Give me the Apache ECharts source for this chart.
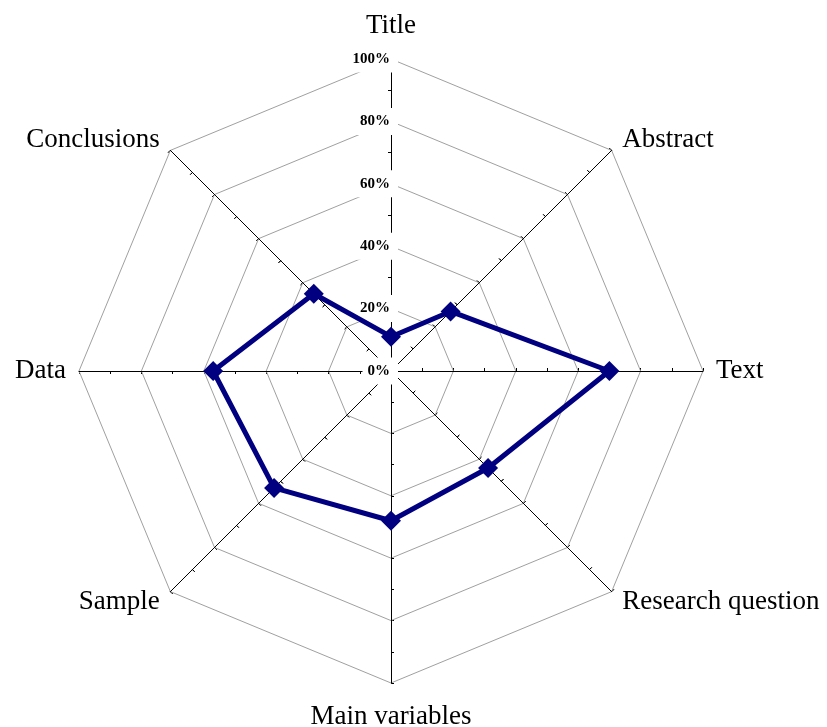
<!DOCTYPE html>
<html>
<head>
<meta charset="utf-8">
<script src="https://cdn.jsdelivr.net/npm/echarts@6/dist/echarts.min.js"></script>
<style>
  html, body { margin: 0; padding: 0; background: #fff; }
  #chart { width: 827px; height: 727px; }
</style>
</head>
<body>
<div id="chart"></div>
<script>
// radar goes counter-clockwise from the top
const axisNames = ['Title', 'Conclusions', 'Data', 'Sample', 'Main variables', 'Research question', 'Text', 'Abstract']
const scores = [11, 35, 57, 53, 48, 44, 70, 27]
const axisMax = 100

const center = [391, 371]
const radius = 312
const serif = '"Liberation Serif", "Times New Roman", serif'

const chart = echarts.init(document.getElementById('chart'))

const nameGaps = [20, 15, 13, 15, 20, 15, 13, 15]
const indicators = axisNames.map((name, i) => ({
  name: name,
  max: axisMax,
  min: 0,
  nameGap: nameGaps[i]
}))

// only the Title axis carries the % labels
const labelIndicators = axisNames.map((name, i) => ({
  name: name,
  max: axisMax,
  min: 0,
  axisLabel: i === 0 ? {
    show: true,
    formatter: '{value}%',
    color: '#000',
    fontFamily: serif,
    fontWeight: 'bold',
    fontSize: 15,
    margin: -7,
    backgroundColor: '#fff',
    padding: [6, 8, 6, 5]
  } : { show: false }
}))

const tickIndicators = axisNames.map(name => ({ name: name, max: axisMax, min: 0 }))

function bareRadar(z, indicator, splitNumber) {
  return {
    z: z,
    center: center,
    radius: radius,
    shape: 'polygon',
    splitNumber: splitNumber,
    indicator: indicator,
    axisName: { show: false },
    axisLine: { show: false },
    axisTick: { show: false },
    axisLabel: { show: false },
    splitLine: { show: false },
    splitArea: { show: false }
  }
}

function tickRadar(inside) {
  const r = bareRadar(0, tickIndicators, 10)
  r.axisTick = { show: true, inside: inside, length: 3, lineStyle: { color: '#000', width: 1 } }
  return r
}

chart.setOption({
  animation: false,
  backgroundColor: '#fff',
  radar: [
    {
      z: 1,
      center: center,
      radius: radius,
      shape: 'polygon',
      splitNumber: 5,
      indicator: indicators,
      axisName: {
        color: '#000',
        fontFamily: serif,
        fontSize: 27
      },
      axisLine: { lineStyle: { color: '#000', width: 1 } },
      axisTick: { show: false },
      axisLabel: { show: false },
      splitLine: { lineStyle: { color: '#a0a0a0', width: 1 } },
      splitArea: { show: false }
    },
    tickRadar(true),
    tickRadar(false),
    bareRadar(2, labelIndicators, 5)
  ],
  series: [
    {
      type: 'radar',
      radarIndex: 0,
      z: 4,
      symbol: 'diamond',
      symbolSize: 20,
      lineStyle: { color: '#000080', width: 5 },
      itemStyle: { color: '#000080' },
      data: [{ value: scores, name: 'Score' }]
    }
  ]
})
</script>
</body>
</html>
